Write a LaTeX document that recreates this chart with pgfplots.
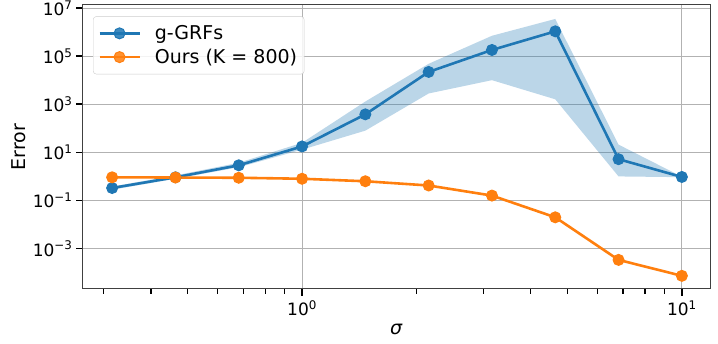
\documentclass[border=0pt]{standalone}
\usepackage{pgfplots}
\pgfplotsset{compat=1.18}
\usepgfplotslibrary{fillbetween}
\usepackage{fontspec}
\setmainfont{DejaVu Sans}
\definecolor{c0}{HTML}{1F77B4}
\definecolor{c1}{HTML}{FF7F0E}
\begin{document}
\begin{tikzpicture}
\begin{axis}[
  xmode=log, ymode=log,
  scale only axis, width=627pt, height=284pt,
  xmin=0.265, xmax=11.86,
  ymin=2.1e-5, ymax=1.33e7,
  xtick={1,10}, xticklabels={10\textsuperscript{0},10\textsuperscript{1}},
  minor xtick={0.3,0.4,0.5,0.6,0.7,0.8,0.9,2,3,4,5,6,7,8,9},
  ytick={1e-3,1e-1,1e1,1e3,1e5,1e7},
  yticklabels={10\textsuperscript{−3},10\textsuperscript{−1},10\textsuperscript{1},10\textsuperscript{3},10\textsuperscript{5},10\textsuperscript{7}},
  minor ytick={},
  grid=major,
  major grid style={draw=black!30, line width=0.8pt},
  tick align=outside, tick pos=left,
  major tick length=7pt, minor tick length=5pt,
  major tick style={black, line width=1.6pt},
  minor tick style={black, line width=1.2pt},
  axis line style={black!75, line width=1pt},
  ticklabel style={font=\fontsize{17}{20}\selectfont},
  xticklabel style={yshift=-1pt},
  xlabel={\textit{σ}}, ylabel={Error},
  label style={font=\fontsize{19}{22}\selectfont},
  xlabel style={yshift=-1pt},
  ylabel style={yshift=0pt},
  legend style={at={(rel axis cs:0.016,0.96)}, anchor=north west,
    font=\fontsize{19}{22}\selectfont, draw=black!20, rounded corners=3pt,
    fill=white, fill opacity=0.85, text opacity=1, row sep=4pt,
    inner xsep=5pt, inner ysep=7pt,
    /tikz/every odd column/.append style={column sep=12pt}},
  legend cell align=left,
  legend image code/.code={
    \draw[#1, mark repeat=2, mark phase=2] plot coordinates {(0pt,0pt) (20pt,0pt) (40pt,0pt)};
  },
]
\addplot[name path=up, draw=none, forget plot] coordinates {
(0.3162,0.38) (0.4642,1.1) (0.6813,3.7) (1.0,25) (1.4678,1300) (2.1544,4.8e4) (3.1623,7e5) (4.6416,3.5e6) (6.8129,21) (10.0,0.97)};
\addplot[name path=lo, draw=none, forget plot] coordinates {
(0.3162,0.28) (0.4642,0.8) (0.6813,2.4) (1.0,13) (1.4678,80) (2.1544,2800) (3.1623,1e4) (4.6416,1600) (6.8129,1.0) (10.0,0.93)};
\addplot[fill=c0, fill opacity=0.3, draw=none, forget plot] fill between[of=up and lo];
\addplot[c0, line width=2.6pt, mark=*, mark size=5.5pt, mark options={solid, draw=c0, fill=c0, line width=1pt}] coordinates {
(0.3162,0.33) (0.4642,0.92) (0.6813,2.9) (1.0,17.6) (1.4678,380) (2.1544,2.2e4) (3.1623,1.8e5) (4.6416,1.07e6) (6.8129,5.2) (10.0,0.95)};
\addlegendentry{g-GRFs}
\addplot[c1, line width=2.6pt, mark=*, mark size=5.5pt, mark options={solid, draw=c1, fill=c1, line width=1pt}] coordinates {
(0.3162,0.92) (0.4642,0.9) (0.6813,0.88) (1.0,0.8) (1.4678,0.63) (2.1544,0.42) (3.1623,0.16) (4.6416,0.02) (6.8129,3.4e-4) (10.0,7.4e-5)};
\addlegendentry{Ours (K = 800)}
\end{axis}
\pgfresetboundingbox
\path[use as bounding box] ([shift={(-83pt,-55pt)}]current axis.south west) rectangle ([shift={(8pt,5pt)}]current axis.north east);
\end{tikzpicture}
\end{document}
